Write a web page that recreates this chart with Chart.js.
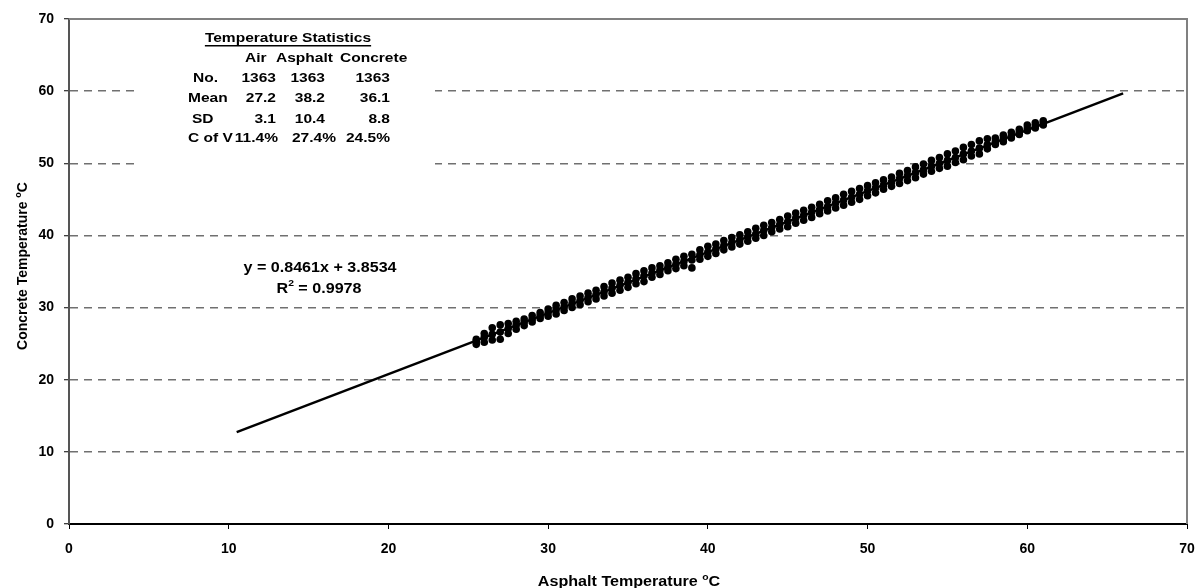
<!DOCTYPE html>
<html>
<head>
<meta charset="utf-8">
<script src="https://cdn.jsdelivr.net/npm/chart.js@4"></script>
<style>
  html, body { margin: 0; padding: 0; background: #fff; }
  #wrap { width: 1197px; height: 588px; }
</style>
</head>
<body>
<div id="wrap"><canvas id="scatterChart" width="1197" height="588"></canvas></div>
<script>
// asphalt temperature columns (readings come in 0.5 degree steps)
const asphaltCols = [25.5, 26, 26.5, 27, 27.5, 28, 28.5, 29, 29.5, 30, 30.5, 31, 31.5, 32, 32.5, 33, 33.5, 34, 34.5, 35,
  35.5, 36, 36.5, 37, 37.5, 38, 38.5, 39, 39.5, 40, 40.5, 41, 41.5, 42, 42.5, 43, 43.5, 44, 44.5, 45,
  45.5, 46, 46.5, 47, 47.5, 48, 48.5, 49, 49.5, 50, 50.5, 51, 51.5, 52, 52.5, 53, 53.5, 54, 54.5, 55,
  55.5, 56, 56.5, 57, 57.5, 58, 58.5, 59, 59.5, 60, 60.5, 61];
// concrete temperature: bottom, middle and top of the stack
const concreteLow = [24.9, 25.2, 25.5, 25.6, 26.4, 27.0, 27.5, 28.0, 28.5, 28.8, 29.1, 29.6, 30.0, 30.4, 30.8, 31.2, 31.6, 32.0, 32.4, 32.8,
  33.3, 33.6, 34.2, 34.6, 35.1, 35.4, 35.8, 35.5, 36.7, 37.1, 37.5, 38.0, 38.4, 38.8, 39.2, 39.6, 40.0, 40.5, 40.9, 41.2,
  41.7, 42.1, 42.5, 43.0, 43.4, 43.8, 44.2, 44.6, 45.0, 45.5, 45.9, 46.4, 46.8, 47.2, 47.6, 48.0, 48.5, 48.9, 49.3, 49.6,
  50.1, 50.5, 51.0, 51.3, 52.0, 52.6, 53.0, 53.5, 54.0, 54.5, 54.9, 55.3];
const concreteMid = [25.3, 25.9, 26.3, 26.6, 27.1, 27.6, 28.0, 28.4, 28.9, 29.3, 29.7, 30.1, 30.6, 31.0, 31.4, 31.8, 32.2, 32.7, 33.1, 33.5,
  34.0, 34.4, 34.8, 35.2, 35.6, 36.0, 36.4, 36.6, 37.3, 37.7, 38.1, 38.6, 39.0, 39.4, 39.8, 40.2, 40.7, 41.1, 41.5, 41.9,
  42.4, 42.8, 43.2, 43.6, 44.0, 44.5, 44.9, 45.3, 45.7, 46.2, 46.6, 47.0, 47.4, 47.9, 48.3, 48.7, 49.1, 49.6, 50.0, 50.4,
  50.8, 51.3, 51.7, 52.1, 52.6, 53.0, 53.4, 53.8, 54.3, 54.8, 55.2, 55.6];
const concreteHigh = [25.6, 26.4, 27.2, 27.6, 27.8, 28.1, 28.4, 28.9, 29.3, 29.8, 30.3, 30.7, 31.2, 31.6, 32.0, 32.4, 32.9, 33.4, 33.8, 34.2,
  34.7, 35.1, 35.5, 35.8, 36.2, 36.7, 37.1, 37.4, 38.0, 38.5, 38.8, 39.3, 39.7, 40.1, 40.5, 41.0, 41.4, 41.8, 42.2, 42.7,
  43.1, 43.5, 43.9, 44.3, 44.8, 45.2, 45.7, 46.1, 46.5, 46.9, 47.3, 47.7, 48.1, 48.6, 49.0, 49.5, 49.9, 50.4, 50.8, 51.3,
  51.7, 52.2, 52.6, 53.1, 53.4, 53.5, 53.9, 54.3, 54.7, 55.3, 55.6, 55.9];

// linear trendline end points (y = 0.8461x + 3.8534)
const trendX = [10.5, 66];
const trendY = [12.74, 59.70];
const trendLabel = 'y = 0.8461x + 3.8534';
const r2Value = '0.9978';

// axes
const axisMin = 0;
const axisMax = 70;
const tickStep = 10;

// statistics box
const statTitle = 'Temperature Statistics';
const statHeads = ['Air', 'Asphalt', 'Concrete'];
const statRows = ['No.', 'Mean', 'SD', 'C of V'];
const airStats = ['1363', '27.2', '3.1', '11.4%'];
const asphaltStats = ['1363', '38.2', '10.4', '27.4%'];
const concreteStats = ['1363', '36.1', '8.8', '24.5%'];

const points = [];
for (let i = 0; i < asphaltCols.length; i++) {
  points.push({x: asphaltCols[i], y: concreteLow[i]});
  points.push({x: asphaltCols[i], y: concreteMid[i]});
  points.push({x: asphaltCols[i], y: concreteHigh[i]});
}
const trendPts = trendX.map((x, i) => ({x: x, y: trendY[i]}));

const FONT = '"Liberation Sans", Arial, sans-serif';
let SX = 1.15; // the original picture is stretched sideways a little

// draw text, stretched sideways by SX; align is left / center / right
function wideText(ctx, text, x, y, align, size) {
  ctx.font = 'bold ' + size + 'px ' + FONT;
  const w = ctx.measureText(text).width * SX;
  let sx = x;
  if (align === 'center') sx = x - w / 2;
  if (align === 'right') sx = x - w;
  ctx.save();
  ctx.translate(sx, y);
  ctx.scale(SX, 1);
  ctx.textAlign = 'left';
  ctx.fillText(text, 0, 0);
  ctx.restore();
  return w;
}

function textW(ctx, text, size) {
  ctx.font = 'bold ' + size + 'px ' + FONT;
  return ctx.measureText(text).width * SX;
}

// text with a small raised "o" before the C
function supTitle(ctx, before, x, y) {
  const w1 = textW(ctx, before, 14);
  const w2 = textW(ctx, 'o', 9);
  const w3 = textW(ctx, 'C', 14);
  const sx = x - (w1 + w2 + w3) / 2;
  ctx.textBaseline = 'alphabetic';
  wideText(ctx, before, sx, y, 'left', 14);
  wideText(ctx, 'o', sx + w1, y - 6, 'left', 9);
  wideText(ctx, 'C', sx + w1 + w2, y, 'left', 14);
}

const extrasPlugin = {
  id: 'extras',
  beforeDatasetsDraw(chart) {
    const ctx = chart.ctx;
    // white box behind the statistics hides the gridlines
    ctx.save();
    ctx.fillStyle = '#fff';
    ctx.fillRect(140, 22, 295, 148);
    ctx.restore();
  },
  afterDraw(chart) {
    const ctx = chart.ctx;
    const a = chart.chartArea;
    ctx.save();
    // grey frame on top and right
    ctx.strokeStyle = '#808080';
    ctx.lineWidth = 2;
    ctx.beginPath();
    ctx.moveTo(a.left, a.top);
    ctx.lineTo(a.right, a.top);
    ctx.lineTo(a.right, a.bottom);
    ctx.stroke();

    ctx.fillStyle = '#000';
    // axis titles (the rotated one runs along the unstretched direction)
    supTitle(ctx, 'Asphalt Temperature ', 629, 586);
    ctx.save();
    ctx.translate(27, 266);
    ctx.rotate(-Math.PI / 2);
    const keep = SX;
    SX = 1;
    supTitle(ctx, 'Concrete Temperature ', 0, 0);
    SX = keep;
    ctx.restore();

    // statistics table
    const fs = 13.5;
    ctx.textBaseline = 'middle';
    const tw = wideText(ctx, statTitle, 288, 38, 'center', fs);
    ctx.fillRect(288 - tw / 2, 45, tw, 1.5);
    wideText(ctx, statHeads[0], 245, 58, 'left', fs);
    wideText(ctx, statHeads[1], 276, 58, 'left', fs);
    wideText(ctx, statHeads[2], 340, 58, 'left', fs);
    const rowY = [78, 98, 119, 138];
    const labelX = [193, 188, 192, 188];
    for (let i = 0; i < statRows.length; i++) {
      wideText(ctx, statRows[i], labelX[i], rowY[i], 'left', fs);
      wideText(ctx, airStats[i], i == 3 ? 278 : 276, rowY[i], 'right', fs);
      wideText(ctx, asphaltStats[i], i == 3 ? 336 : 325, rowY[i], 'right', fs);
      wideText(ctx, concreteStats[i], 390, rowY[i], 'right', fs);
    }

    // trendline equation
    wideText(ctx, trendLabel, 320, 268, 'center', 14);
    const wR = textW(ctx, 'R', 14);
    const w2 = textW(ctx, '2', 9);
    const wRest = textW(ctx, ' = ' + r2Value, 14);
    const rx = 319 - (wR + w2 + wRest) / 2;
    wideText(ctx, 'R', rx, 289, 'left', 14);
    wideText(ctx, '2', rx + wR, 284, 'left', 9);
    wideText(ctx, ' = ' + r2Value, rx + wR + w2, 289, 'left', 14);
    ctx.restore();
  }
};

const ctx = document.getElementById('scatterChart').getContext('2d');
const scatterChart = new Chart(ctx, {
  type: 'scatter',
  data: {
    datasets: [
      {
        label: 'Concrete vs Asphalt',
        data: points,
        pointStyle: 'circle',
        pointRadius: 3.8,
        backgroundColor: '#000',
        borderColor: '#000',
        borderWidth: 0
      },
      {
        label: 'Linear',
        type: 'line',
        data: trendPts,
        borderColor: '#000',
        borderWidth: 2.5,
        pointRadius: 0,
        fill: false
      }
    ]
  },
  plugins: [extrasPlugin],
  options: {
    responsive: false,
    animation: false,
    layout: { padding: { left: 0, top: 19, right: 10, bottom: 0 } },
    plugins: {
      legend: { display: false },
      tooltip: { enabled: false }
    },
    scales: {
      x: {
        type: 'linear',
        min: axisMin,
        max: axisMax,
        afterFit(scale) {
          scale.height = 64;
          scale.paddingLeft = 0;
          scale.paddingRight = 0;
        },
        ticks: {
          stepSize: tickStep,
          color: '#000',
          padding: 12,
          font: { family: FONT, size: 14, weight: 'bold' }
        },
        grid: {
          drawOnChartArea: false,
          drawTicks: true,
          tickLength: 5,
          tickColor: '#000',
          tickWidth: 1
        },
        border: { display: true, color: '#000', width: 2 }
      },
      y: {
        type: 'linear',
        min: axisMin,
        max: axisMax,
        afterFit(scale) {
          scale.width = 69;
          scale.paddingTop = 0;
          scale.paddingBottom = 0;
        },
        ticks: {
          stepSize: tickStep,
          color: '#000',
          padding: 10,
          font: { family: FONT, size: 14, weight: 'bold' }
        },
        grid: {
          color: (c) => (c.tick && (c.tick.value === axisMin || c.tick.value === axisMax)) ? 'rgba(0,0,0,0)' : '#707070',
          lineWidth: 1.5,
          drawTicks: true,
          tickLength: 5,
          tickColor: '#000',
          tickWidth: 1
        },
        border: { display: true, color: '#555', width: 2, dash: [8, 6] }
      }
    }
  }
});
</script>
</body>
</html>
